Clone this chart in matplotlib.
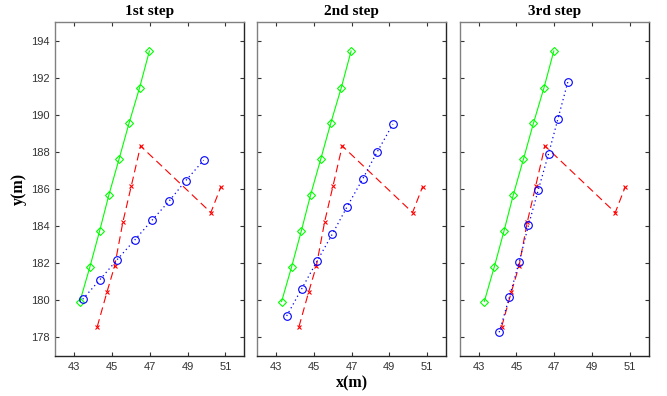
import matplotlib
matplotlib.use("Agg")
import matplotlib.pyplot as plt

titles = ["1st step", "2nd step", "3rd step"]

green_x = [43.3, 43.83, 44.35, 44.84, 45.37, 45.9, 46.46, 46.98]
green_y = [179.93, 181.8, 183.76, 185.7, 187.6, 189.54, 191.46, 193.44]

red_x = [44.22, 44.74, 45.14, 45.58, 46.02, 46.51, 50.23, 50.76]
red_y = [178.58, 180.47, 181.85, 184.24, 186.16, 188.32, 184.73, 186.12]

blue1_x = [43.45, 44.35, 45.26, 46.2, 47.13, 48.04, 48.9, 49.85]
blue1_y = [180.06, 181.1, 182.18, 183.25, 184.33, 185.37, 186.45, 187.55]

blue2_x = [43.57, 44.37, 45.17, 45.99, 46.77, 47.59, 48.35, 49.19]
blue2_y = [179.16, 180.63, 182.1, 183.58, 185.05, 186.54, 187.98, 189.5]

blue3_x = [44.09, 44.63, 45.15, 45.64, 46.16, 46.7, 47.2, 47.72]
blue3_y = [178.28, 180.18, 182.09, 184.05, 185.96, 187.89, 189.79, 191.77]

blues = [(blue1_x, blue1_y), (blue2_x, blue2_y), (blue3_x, blue3_y)]

xticks = [43, 45, 47, 49, 51]
yticks = [178, 180, 182, 184, 186, 188, 190, 192, 194]

W, H = 667, 396
fig = plt.figure(figsize=(W / 100, H / 100), dpi=100)

lefts = [55.3, 257, 459.7]
pw = 189
top, bottom = 22, 356

serif = ["Liberation Serif", "DejaVu Serif"]
sans = ["Liberation Sans", "DejaVu Sans"]

for i, (l, title) in enumerate(zip(lefts, titles)):
    ax = fig.add_axes([l / W, 1 - bottom / H, pw / W, (bottom - top) / H])
    ax.plot(green_x, green_y, color="#00ff00", linestyle="-", marker="D",
            markersize=4.5, markerfacecolor="none", markeredgewidth=0.8, linewidth=0.8)
    ax.plot(red_x, red_y, color="#ff0000", linestyle=(0, (7, 4)), marker="x",
            markersize=3.5, markeredgewidth=0.8, linewidth=0.8)
    bx, by = blues[i]
    ax.plot(bx, by, color="#0000ff", linestyle=(0, (1, 2.5)), marker="o",
            markersize=5.5, markerfacecolor="none", markeredgewidth=0.8, linewidth=0.9)
    ax.set_xlim(42, 52)
    ax.set_ylim(177, 195)
    ax.set_xticks(xticks)
    ax.set_yticks(yticks)
    ax.set_xticklabels([str(t) for t in xticks], family=sans, fontsize=8, color="#333333")
    if i == 0:
        ax.set_yticklabels([str(t) for t in yticks], family=sans, fontsize=8, color="#333333")
    else:
        ax.set_yticklabels([])
    ax.tick_params(direction="in", length=3, width=0.8, top=True, right=True,
                   color="#333333", pad=4)
    for s in ["left", "top"]:
        ax.spines[s].set_color("#808080")
    for s in ["right", "bottom"]:
        ax.spines[s].set_color("#262626")
    for s in ax.spines.values():
        s.set_linewidth(1.0)
    ax.set_title(title, family=serif, fontweight="bold", fontsize=11, pad=5)
    if i == 0:
        ax.set_ylabel("y(m)", family=serif, fontweight="bold", fontsize=11.5, labelpad=3)
    if i == 1:
        ax.set_xlabel("x(m)", family=serif, fontweight="bold", fontsize=11.5, labelpad=3)

fig.savefig("out.png", dpi=100)
